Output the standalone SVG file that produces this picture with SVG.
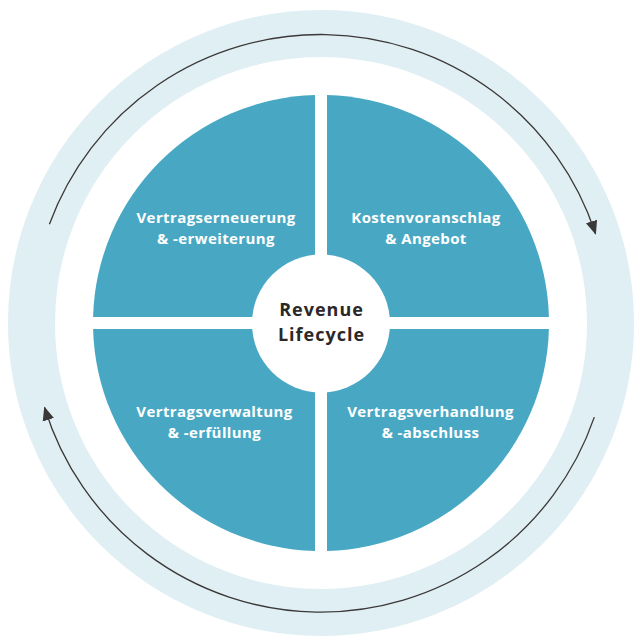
<svg xmlns="http://www.w3.org/2000/svg" width="640" height="640" viewBox="0 0 640 640">
<style>
.quad{fill:#48a8c4}
.lbl{font-family:"Open Sans","DejaVu Sans",sans-serif;font-weight:700;font-size:15px;letter-spacing:0.4px;fill:#ffffff;text-anchor:middle}
.ctr{font-family:"Open Sans","DejaVu Sans",sans-serif;font-weight:700;font-size:18px;letter-spacing:1px;fill:#2b2828;text-anchor:middle}
.arc{fill:none;stroke:#3a3838;stroke-width:1.3}
</style>
<defs>
<marker id="ah" markerUnits="userSpaceOnUse" markerWidth="14" markerHeight="14" viewBox="0 0 12 10" refX="11" refY="5" orient="auto">
<path d="M0,0 L12,5 L0,10 Z" fill="#3a3838"/>
</marker>
</defs>
<g id="ring">
<circle cx="321" cy="323" r="289.5" fill="none" stroke="#e0eff3" stroke-width="47"/>
</g>
<g id="q-renewal">
<path class="quad" d="M315,317 H93.08 A228,228 0 0 1 315,95.08 Z"/>
<text class="lbl" x="216" y="223">Vertragserneuerung</text>
<text class="lbl" x="216" y="244">&amp; -erweiterung</text>
</g>
<g id="q-quote">
<path class="quad" d="M327,317 V95.08 A228,228 0 0 1 548.92,317 Z"/>
<text class="lbl" x="426" y="223">Kostenvoranschlag</text>
<text class="lbl" x="426" y="244">&amp; Angebot</text>
</g>
<g id="q-negotiation">
<path class="quad" d="M327,329 H548.92 A228,228 0 0 1 327,550.92 Z"/>
<text class="lbl" x="430.5" y="417">Vertragsverhandlung</text>
<text class="lbl" x="430.5" y="438">&amp; -abschluss</text>
</g>
<g id="q-management">
<path class="quad" d="M315,329 V550.92 A228,228 0 0 1 93.08,329 Z"/>
<text class="lbl" x="214.5" y="417">Vertragsverwaltung</text>
<text class="lbl" x="214.5" y="438">&amp; -erfüllung</text>
</g>
<g id="center">
<circle cx="321" cy="323.5" r="69" fill="#ffffff"/>
<text class="ctr" x="321.5" y="315.5">Revenue</text>
<text class="ctr" x="321.5" y="340.5">Lifecycle</text>
</g>
<g id="connectors">
<path class="arc" d="M49.4,224.2 A289,289 0 0 1 595.5,233.7" marker-end="url(#ah)"/>
<path class="arc" d="M594.3,417.1 A289,289 0 0 1 44.6,407.5" marker-end="url(#ah)"/>
</g>
</svg>
